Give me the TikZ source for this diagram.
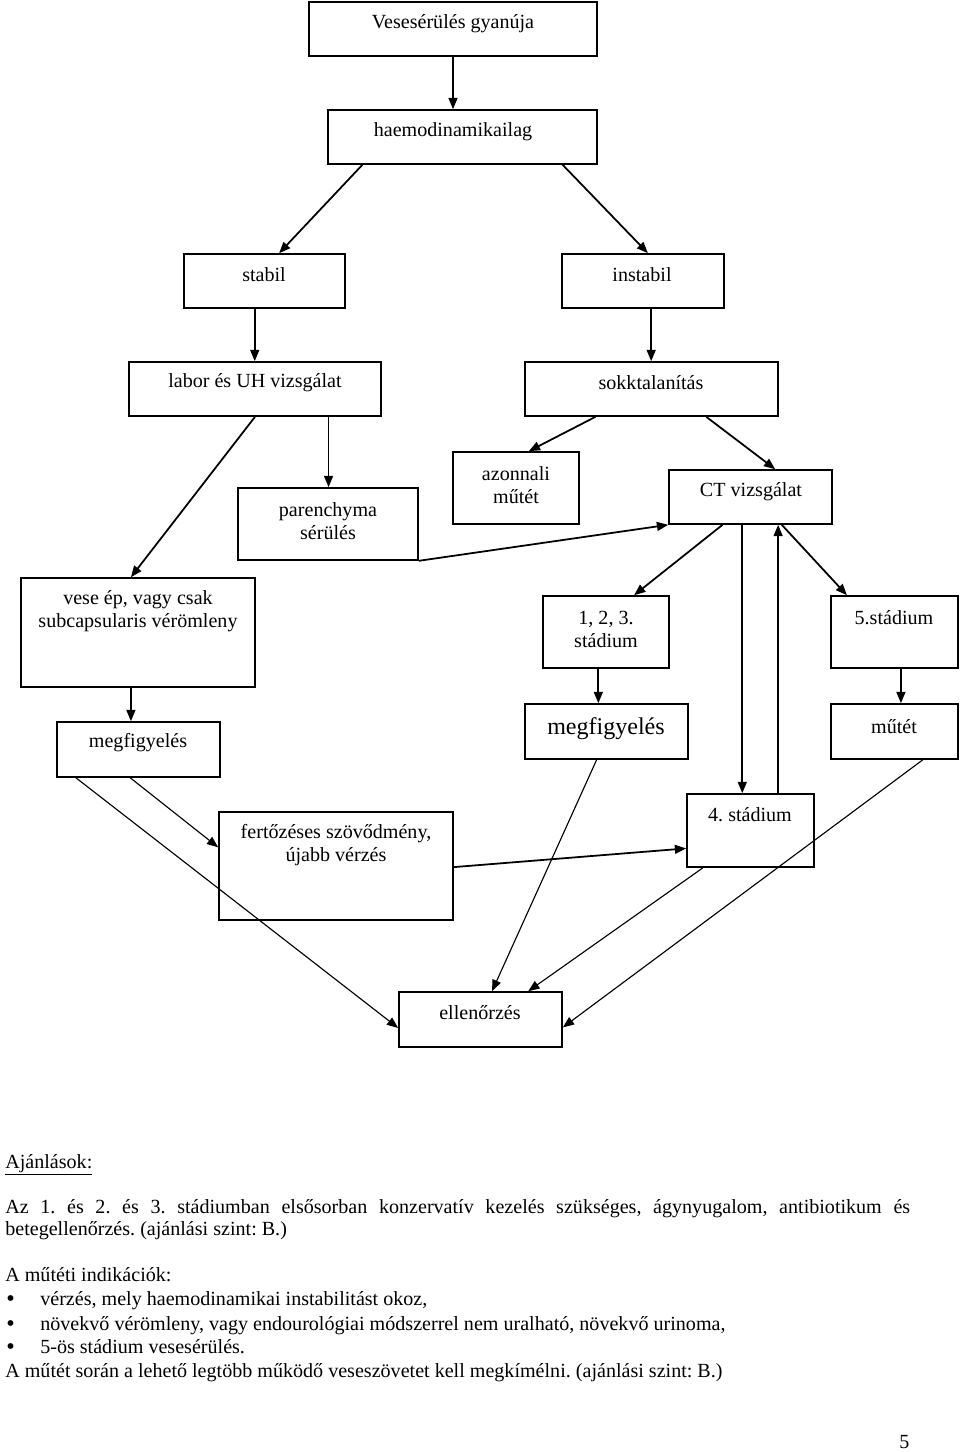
\documentclass[tikz,border=0pt]{standalone}
\usepackage{fontspec}
\setmainfont{Liberation Serif}
\usetikzlibrary{arrows.meta,calc,fit}
\frenchspacing
\begin{document}
\begin{tikzpicture}[x=0.62pt,y=-0.62pt,
  box/.style={draw,line width=1pt,inner sep=0pt},
  txt/.style={align=center,font=\fontsize{12.45}{14.3}\selectfont,inner sep=0pt},
  body/.style={anchor=base west,inner sep=0pt,font=\fontsize{12.45}{14}\selectfont},
  bul/.style={anchor=base west,inner sep=0pt,font=\fontsize{15}{16}\selectfont},
  arr/.style={line width=1.1pt,-{Triangle[length=7pt,width=5.5pt]}},
  tarr/.style={line width=0.7pt,-{Triangle[length=7pt,width=5.5pt]}},
]
\useasboundingbox (0,0) rectangle (960,1452);
% boxes
\node[box,fit={(309,2) (597,56)}] (A) {};
\node[box,fit={(328,110) (597,164)}] (B) {};
\node[box,fit={(184,254) (345,308)}] (stab) {};
\node[box,fit={(562,254) (724,308)}] (instab) {};
\node[box,fit={(129,362) (381,416)}] (labor) {};
\node[box,fit={(525,362) (778,416)}] (sokk) {};
\node[box,fit={(238,488) (418,560)}] (par) {};
\node[box,fit={(453,452) (579,524)}] (azon) {};
\node[box,fit={(669,470) (832,524)}] (ct) {};
\node[box,fit={(21,578) (255,687)}] (vese) {};
\node[box,fit={(543,596) (669,668)}] (s123) {};
\node[box,fit={(831,596) (958,668)}] (st5) {};
\node[box,fit={(57,722) (220,777)}] (megfL) {};
\node[box,fit={(525,704) (688,759)}] (megfM) {};
\node[box,fit={(831,704) (958,759)}] (mutet) {};
\node[box,fit={(219,812) (453,920)}] (fert) {};
\node[box,fit={(687,794) (814,867)}] (st4) {};
\node[box,fit={(399,992) (562,1047)}] (ell) {};
% texts
\node[txt] (tA) at (453,24) {Vesesérülés gyanúja};
\node[txt] (tB) at (453,132) {haemodinamikailag};
\node[txt] (tstab) at (264,275) {stabil};
\node[txt] (tinstab) at (642,275) {instabil};
\node[txt] (tlabor) at (255,383) {labor és UH vizsgálat};
\node[txt] (tsokk) at (651,383) {sokktalanítás};
\node[txt] (tpar) at (328,521) {parenchyma\\sérülés};
\node[txt] (tazon) at (516,485) {azonnali\\műtét};
\node[txt] (tct) at (751,492) {CT vizsgálat};
\node[txt] (tvese) at (138,611) {vese ép, vagy csak\\subcapsularis vérömleny};
\node[txt] (t123) at (606,629) {1, 2, 3.\\stádium};
\node[txt] (tst5) at (894,618) {5.stádium};
\node[txt] (tmegfL) at (138,743) {megfigyelés};
\node[txt,font=\fontsize{14.9}{17}\selectfont] (tmegfM) at (606,729) {megfigyelés};
\node[txt] (tmutet) at (894,727) {műtét};
\node[txt] (tfert) at (336,845) {fertőzéses szövődmény,\\újabb vérzés};
\node[txt] (tst4) at (750,815) {4. stádium};
\node[txt] (tell) at (480,1013) {ellenőrzés};
% connectors
\draw[arr] (A.south) -- (A.south |- B.north);
\draw[arr] ($(B.south west)!0.13!(B.south east)$) -- ($(stab.north west)!0.59!(stab.north east)$);
\draw[arr] ($(B.south west)!0.87!(B.south east)$) -- ($(instab.north west)!0.53!(instab.north east)$);
\draw[arr] ($(stab.south west)!0.44!(stab.south east)$) coordinate (c1) -- (c1 |- labor.north);
\draw[arr] ($(instab.south west)!0.55!(instab.south east)$) coordinate (c2) -- (c2 |- sokk.north);
\draw[arr] (labor.south) -- ($(vese.north west)!0.47!(vese.north east)$);
\draw[arr] ($(labor.south west)!0.79!(labor.south east)$) coordinate (c3) -- (c3 |- par.north);
\draw[arr] ($(sokk.south west)!0.28!(sokk.south east)$) -- ($(azon.north west)!0.6!(azon.north east)$);
\draw[arr] ($(sokk.south west)!0.715!(sokk.south east)$) -- ($(ct.north west)!0.65!(ct.north east)$);
\draw[arr] (par.south east) -- (ct.south west);
\draw[arr] ($(ct.south west)!0.33!(ct.south east)$) -- ($(s123.north west)!0.72!(s123.north east)$);
\draw[arr] ($(ct.south west)!0.45!(ct.south east)$) coordinate (c4) -- (c4 |- st4.north);
\draw[arr] ($(st4.north west)!0.715!(st4.north east)$) coordinate (c5) -- (c5 |- ct.south);
\draw[arr] ($(ct.south west)!0.69!(ct.south east)$) -- ($(st5.north west)!0.13!(st5.north east)$);
\draw[arr] ($(vese.south west)!0.47!(vese.south east)$) coordinate (c6) -- (c6 |- megfL.north);
\draw[arr] ($(s123.south west)!0.44!(s123.south east)$) coordinate (c7) -- (c7 |- megfM.north);
\draw[arr] ($(st5.south west)!0.55!(st5.south east)$) coordinate (c8) -- (c8 |- mutet.north);
\draw[tarr] ($(megfL.south west)!0.45!(megfL.south east)$) -- ($(fert.north west)!0.33!(fert.south west)$);
\draw[tarr] ($(megfL.south west)!0.12!(megfL.south east)$) -- ($(ell.north west)!0.65!(ell.south west)$);
\draw[tarr] ($(megfM.south west)!0.44!(megfM.south east)$) -- ($(ell.north west)!0.57!(ell.north east)$);
\draw[arr] ($(fert.north east)!0.51!(fert.south east)$) -- ($(st4.north west)!0.74!(st4.south west)$);
\draw[tarr] ($(st4.south west)!0.13!(st4.south east)$) -- ($(ell.north west)!0.79!(ell.north east)$);
\draw[tarr] ($(mutet.south west)!0.72!(mutet.south east)$) -- ($(ell.north east)!0.64!(ell.south east)$);
% bottom text
\node[body] (aj) at (5,1168) {\underline{Ajánlások:}};
\node[body] (p1) at (5,1213) {\makebox[561pt][s]{Az 1. és 2. és 3. stádiumban elsősorban konzervatív kezelés szükséges, ágynyugalom, antibiotikum és}};
\node[body] (p2) at (5,1235) {betegellenőrzés. (ajánlási szint: B.)};
\node[body] (ind) at (5,1281) {A műtéti indikációk:};
\node[bul] (b1) at (6,1306) {\textbullet};
\node[body] (l1) at (40,1305) {vérzés, mely haemodinamikai instabilitást okoz,};
\node[bul] (b2) at (6,1331) {\textbullet};
\node[body] (l2) at (40,1330) {növekvő vérömleny, vagy endourológiai módszerrel nem uralható, növekvő urinoma,};
\node[bul] (b3) at (6,1354) {\textbullet};
\node[body] (l3) at (40,1353) {5-ös stádium vesesérülés.};
\node[body] (last) at (5,1377) {A műtét során a lehető legtöbb működő veseszövetet kell megkímélni. (ajánlási szint: B.)};
\node[body] (pg) at (899,1448) {5};
\end{tikzpicture}
\end{document}
